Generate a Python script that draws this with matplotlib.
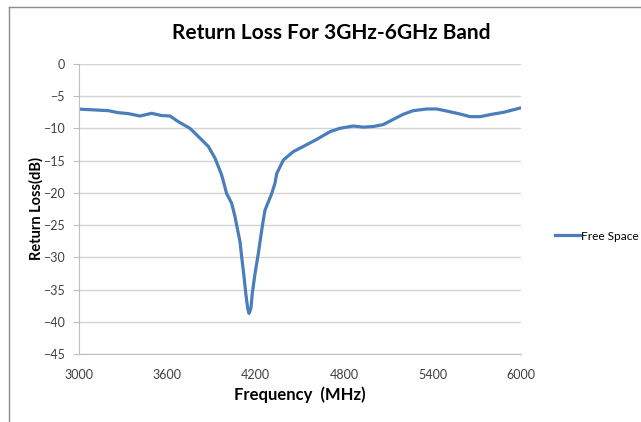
import matplotlib.pyplot as plt
from matplotlib.lines import Line2D

# values
freq = [3000, 3199, 3265, 3335, 3414, 3493, 3561, 3618, 3674, 3753, 3821, 3878,
        3923, 3968, 4002, 4036, 4059, 4077, 4093, 4104, 4120, 4133, 4145, 4154,
        4167, 4176, 4195, 4217, 4240, 4262, 4285, 4308, 4330, 4342, 4387, 4454,
        4522, 4613, 4704, 4771, 4862, 4930, 4997, 5065, 5133, 5201, 5269, 5360,
        5428, 5496, 5586, 5654, 5722, 5813, 5881, 5949, 6000]
free_space = [-7.0, -7.24, -7.55, -7.7, -8.07, -7.65, -8.0, -8.07, -8.95, -9.98, -11.5, -12.8,
              -14.6, -17.2, -20.1, -21.6, -23.7, -25.8, -27.6, -29.9, -33.0, -35.8, -37.9, -38.7,
              -37.9, -35.6, -32.5, -29.4, -25.8, -22.7, -21.4, -20.1, -18.5, -17.0, -14.9, -13.6,
              -12.8, -11.7, -10.5, -9.98, -9.62, -9.8, -9.7, -9.4, -8.6, -7.8, -7.24, -6.98,
              -6.98, -7.3, -7.76, -8.17, -8.17, -7.76, -7.5, -7.1, -6.8]
xticks = [3000, 3600, 4200, 4800, 5400, 6000]
yticks = [0, -5, -10, -15, -20, -25, -30, -35, -40, -45]

plt.rcParams['font.family'] = ['Lato', 'DejaVu Sans']

fig = plt.figure(figsize=(6.41, 4.22), dpi=100)
ax = fig.add_axes([79/641, 1-354/422, (521-79)/641, (354-64)/422])

ax.plot(freq, free_space, color='#4a7ebb', lw=2.3, label='Free Space')
ax.set_xlim(3000, 6000)
ax.set_ylim(-45, 0)
ax.set_xticks(xticks)
ax.set_yticks(yticks)
ax.grid(axis='y', color='#d4d4d4', lw=1)
ax.set_axisbelow(True)
for s in ['top', 'right']:
    ax.spines[s].set_visible(False)
for s in ['left', 'bottom']:
    ax.spines[s].set_color('#bfbfbf')
ax.tick_params(axis='y', colors='#bfbfbf', labelcolor='#404040', labelsize=9, length=4, pad=6)
ax.tick_params(axis='x', colors='#bfbfbf', labelcolor='#404040', labelsize=9, length=0, pad=11)

fig.text(331/641, 1-33/422, 'Return Loss For 3GHz-6GHz Band', fontsize=15,
         fontweight='bold', ha='center', va='center')
ax.set_xlabel('Frequency  (MHz)', fontsize=12, fontweight='bold', labelpad=4)
ax.set_ylabel('Return Loss(dB)', fontsize=10.5, fontweight='bold', labelpad=0)

fig.legend(loc='center left', bbox_to_anchor=(555/641, 1-236/422), frameon=False,
           fontsize=8.6, handlelength=2.1, handletextpad=0.1, borderpad=0, borderaxespad=0)

# chart frame edges visible in the crop
fig.add_artist(Line2D([9/641, 9/641], [0, 1-7/422], color='#8c8c8c', lw=1))
fig.add_artist(Line2D([9/641, 1], [1-7/422, 1-7/422], color='#8c8c8c', lw=1))

fig.savefig('out.png', dpi=100)
